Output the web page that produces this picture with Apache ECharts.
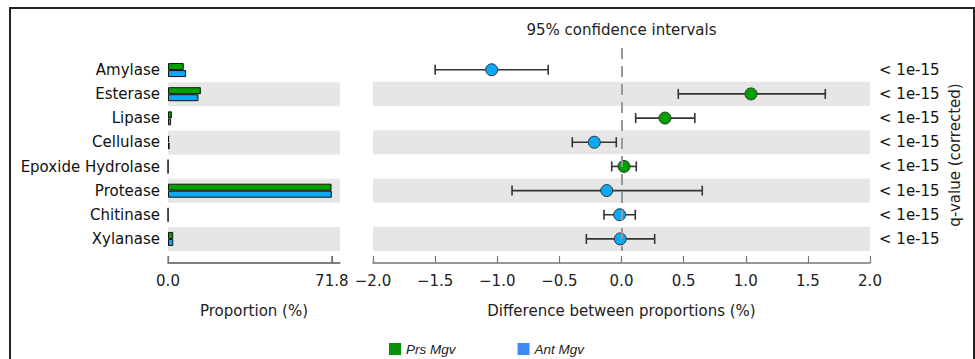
<!DOCTYPE html>
<html>
<head>
<meta charset="utf-8">
<script src="https://cdn.jsdelivr.net/npm/echarts@6/dist/echarts.min.js"></script>
<style>
html,body{margin:0;padding:0;background:#fff;}
#chart{width:975px;height:359px;}
</style>
</head>
<body>
<div id="chart"></div>
<script>
const categories = ['Amylase', 'Esterase', 'Lipase', 'Cellulase', 'Epoxide Hydrolase', 'Protease', 'Chitinase', 'Xylanase'];
const prsMgv = [6.9, 14.4, 1.7, 0.5, 0.05, 71.68, 0.04, 2.3];
const antMgv = [7.95, 13.35, 1.35, 0.72, 0.03, 71.8, 0.06, 2.31];
const diffMean = [-1.045, 1.042, 0.35, -0.219, 0.02, -0.119, -0.015, -0.01];
const ciLower = [-1.50, 0.457, 0.114, -0.396, -0.079, -0.881, -0.141, -0.283];
const ciUpper = [-0.59, 1.64, 0.59, -0.042, 0.119, 0.65, 0.111, 0.267];
const qValues = ['< 1e-15', '< 1e-15', '< 1e-15', '< 1e-15', '< 1e-15', '< 1e-15', '< 1e-15', '< 1e-15'];
const seriesNames = ['Prs Mgv', 'Ant Mgv'];

const GREEN = '#00a000';
const BLUE = '#0aa8f5';
const FONT = 'DejaVu Sans';
const FS = 15;
const AXIS_OFFSET = 12;
const AXIS_COLOR = '#777';

const propMax = Math.max(...prsMgv, ...antMgv);
const propAxisMax = propMax * 1.05;
const propTicks = [0, propMax];
const idx = categories.map((c, i) => i);
const bandData = idx.filter(i => i % 2 === 1).map(i => [{yAxis: i - 0.5}, {yAxis: i + 0.5}]);

const baseGraphics = [
  {id: 'frame', type: 'rect', shape: {x: 10, y: 8, width: 964, height: 400}, style: {fill: 'none', stroke: '#222', lineWidth: 2}, silent: true},
  {id: 'title', type: 'text', x: 621.5, y: 30, style: {text: '95% confidence intervals', font: FS + 'px "DejaVu Sans"', fill: '#222', textAlign: 'center', textVerticalAlign: 'middle'}},
  {id: 'qname', type: 'text', x: 955, y: 155, rotation: Math.PI / 2, style: {text: 'q-value (corrected)', font: FS + 'px "DejaVu Sans"', fill: '#222', textAlign: 'center', textVerticalAlign: 'middle'}}
];

const chart = echarts.init(document.getElementById('chart'), null, {renderer: 'svg'});
const option = {
  animation: false,
  backgroundColor: '#fff',
  graphic: baseGraphics,
  legend: {
    data: [
      {name: seriesNames[0], itemStyle: {color: '#0a8f0a', borderWidth: 0}},
      {name: seriesNames[1], itemStyle: {color: '#3f88f8', borderWidth: 0}}
    ],
    icon: 'rect', itemWidth: 12, itemHeight: 12, itemGap: 62,
    left: 384, top: 337,
    textStyle: {fontFamily: 'Liberation Sans', fontStyle: 'italic', fontSize: 13.5, color: '#222'},
    selectedMode: false
  },
  grid: [
    {left: 168, right: 975 - 340, top: 58, bottom: 108},
    {left: 373, right: 975 - 870, top: 48, bottom: 108}
  ],
  xAxis: [
    {
      gridIndex: 0, type: 'value', min: 0, max: propAxisMax, offset: AXIS_OFFSET,
      name: 'Proportion (%)', nameLocation: 'middle', nameGap: 40,
      nameTextStyle: {fontFamily: FONT, fontSize: FS, color: '#222'},
      axisLine: {show: true, onZero: false, lineStyle: {color: AXIS_COLOR, width: 1.5}},
      axisTick: {show: true, inside: true, length: 7, customValues: propTicks, lineStyle: {color: AXIS_COLOR, width: 1.2}},
      axisLabel: {customValues: propTicks, formatter: v => v.toFixed(1), fontFamily: FONT, fontSize: FS, color: '#222', margin: 10},
      splitLine: {show: false}
    },
    {
      gridIndex: 1, type: 'value', min: -2, max: 2, interval: 0.5, offset: AXIS_OFFSET,
      name: 'Difference between proportions (%)', nameLocation: 'middle', nameGap: 40,
      nameTextStyle: {fontFamily: FONT, fontSize: FS, color: '#222'},
      axisLine: {show: true, onZero: false, lineStyle: {color: AXIS_COLOR, width: 1.5}},
      axisTick: {show: true, inside: true, length: 7, lineStyle: {color: AXIS_COLOR, width: 1.2}},
      axisLabel: {formatter: v => v.toFixed(1).replace('-', '\u2212'), fontFamily: FONT, fontSize: FS, color: '#222', margin: 10},
      splitLine: {show: false}
    }
  ],
  yAxis: [
    {
      gridIndex: 0, type: 'category', data: categories, inverse: true,
      axisLine: {show: false}, axisTick: {show: false},
      axisLabel: {fontFamily: FONT, fontSize: FS, color: '#111', margin: 8},
      splitArea: {show: true, areaStyle: {color: ['rgba(255,255,255,0)', '#e6e6e6']}},
      splitLine: {show: false}
    },
    {
      gridIndex: 1, type: 'value', min: -0.9, max: 7.5, inverse: true, show: false
    },
    {
      gridIndex: 1, type: 'value', min: -0.9, max: 7.5, inverse: true, position: 'right',
      axisLine: {show: false}, axisTick: {show: false}, splitLine: {show: false},
      axisLabel: {customValues: idx, formatter: v => (Number.isInteger(v) && qValues[v] !== undefined) ? qValues[v] : '',
        fontFamily: FONT, fontSize: FS, color: '#111', margin: 9, align: 'left'}
    }
  ],
  series: [
    {
      name: seriesNames[0], type: 'bar', xAxisIndex: 0, yAxisIndex: 0,
      data: prsMgv, barWidth: 7, barGap: '0%',
      itemStyle: {color: GREEN, borderColor: '#111', borderWidth: 1}
    },
    {
      name: seriesNames[1], type: 'bar', xAxisIndex: 0, yAxisIndex: 0,
      data: antMgv, barWidth: 7, barGap: '0%',
      itemStyle: {color: BLUE, borderColor: '#111', borderWidth: 1}
    },
    {
      type: 'custom', xAxisIndex: 1, yAxisIndex: 1, silent: true,
      data: idx.map(i => [ciLower[i], ciUpper[i], i]),
      encode: {x: [0, 1], y: 2},
      renderItem: function (params, api) {
        const y = api.value(2);
        const p1 = api.coord([api.value(0), y]);
        const p2 = api.coord([api.value(1), y]);
        const h = 5;
        const st = {stroke: '#333', lineWidth: 1.6};
        return {type: 'group', children: [
          {type: 'line', shape: {x1: p1[0], y1: p1[1], x2: p2[0], y2: p2[1]}, style: st},
          {type: 'line', shape: {x1: p1[0], y1: p1[1] - h, x2: p1[0], y2: p1[1] + h}, style: st},
          {type: 'line', shape: {x1: p2[0], y1: p2[1] - h, x2: p2[0], y2: p2[1] + h}, style: st}
        ]};
      },
      markArea: {
        silent: true,
        itemStyle: {color: '#e6e6e6'},
        data: bandData
      },
      z: 2
    },
    {
      type: 'scatter', xAxisIndex: 1, yAxisIndex: 1,
      data: idx.map(i => [diffMean[i], i]),
      symbolSize: 12,
      itemStyle: {
        color: p => p.value[0] >= 0 ? GREEN : BLUE,
        borderColor: '#333', borderWidth: 1, opacity: 1
      },
      markLine: {
        silent: true, symbol: 'none',
        label: {show: false},
        lineStyle: {color: '#999', width: 2, type: [11, 7]},
        data: [{xAxis: 0}]
      },
      z: 3
    }
  ]
};
chart.setOption(option);

// Proportion axis line + ticks placed through the library's own scales
try {
  const xs = [0, propAxisMax].map(v => chart.convertToPixel({xAxisIndex: 0}, v));
  const yBottom = chart.convertToPixel({yAxisIndex: 1}, 7.5) + AXIS_OFFSET;
  const tickXs = propTicks.map(v => chart.convertToPixel({xAxisIndex: 0}, v));
  const extra = [
    {id: 'propAxisLine', type: 'line', z: 100, silent: true,
     shape: {x1: xs[0], y1: yBottom, x2: xs[1], y2: yBottom}, style: {stroke: AXIS_COLOR, lineWidth: 1.5}}
  ].concat(tickXs.map((x, i) => ({
    id: 'propTick' + i, type: 'line', z: 100, silent: true,
    shape: {x1: x, y1: yBottom, x2: x, y2: yBottom - 7}, style: {stroke: AXIS_COLOR, lineWidth: 1.2}
  })));
  chart.setOption({graphic: baseGraphics.concat(extra)});
} catch (e) {
  console.error(e);
}
</script>
</body>
</html>
